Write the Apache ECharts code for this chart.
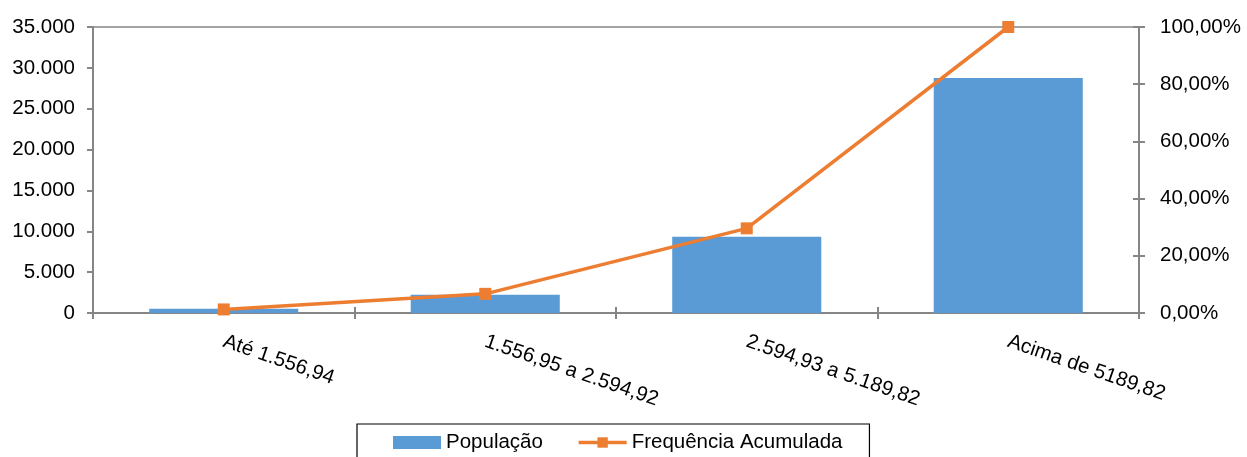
<!DOCTYPE html>
<html>
<head>
<meta charset="utf-8">
<script src="https://cdn.jsdelivr.net/npm/echarts@6/dist/echarts.min.js"></script>
<style>html,body{margin:0;padding:0;background:#fff}#c{width:1247px;height:457px}</style>
</head>
<body>
<div id="c"></div>
<script>
const categories = ['Até 1.556,94', '1.556,95 a 2.594,92', '2.594,93 a 5.189,82', 'Acima de 5189,82'];
const populacao = [520, 2220, 9340, 28760];
const freqAcumulada = [1.25, 6.7, 29.6, 100];
const leftTicks = {min: 0, max: 35000, interval: 5000};
const rightTicks = {min: 0, max: 100, interval: 20};

const FONT = 'Liberation Sans';
const FS = 20.5;
const AX = '#868686';
const chart = echarts.init(document.getElementById('c'));
const fmtThousands = v => String(v).replace(/\B(?=(\d{3})+(?!\d))/g, '.');
const fmtPct = v => v.toFixed(2).replace('.', ',') + '%';

chart.setOption({
  animation: false,
  textStyle: {fontFamily: FONT},
  grid: {left: 93, right: 108, top: 27, bottom: 144, show: true, borderColor: AX, borderWidth: 1.5},
  legend: {
    left: 357, top: 424, padding: [8, 27, 20, 36],
    borderColor: '#000', borderWidth: 1.2,
    itemWidth: 48, itemHeight: 13, itemGap: 34,
    textStyle: {fontFamily: FONT, fontSize: FS, color: '#000'},
    data: [
      {name: 'População', icon: 'rect'},
      {name: 'Frequência Acumulada', lineStyle: {width: 3.5}}
    ]
  },
  xAxis: [{
    type: 'category', data: categories,
    axisLine: {lineStyle: {color: AX, width: 2}},
    axisTick: {show: true, length: 6, lineStyle: {color: AX, width: 2}},
    axisLabel: {rotate: -19, fontSize: FS, color: '#000', margin: 28, fontFamily: FONT, interval: 0}
  }, {
    type: 'category', data: categories, position: 'bottom', gridIndex: 0,
    axisLine: {show: false},
    axisTick: {show: true, inside: true, length: 6, lineStyle: {color: AX, width: 2}},
    axisLabel: {show: false}
  }],
  yAxis: [{
    type: 'value', min: leftTicks.min, max: leftTicks.max, interval: leftTicks.interval,
    splitLine: {show: false},
    axisLine: {show: true, lineStyle: {color: AX, width: 2}},
    axisTick: {show: true, length: 6, lineStyle: {color: AX, width: 2}},
    axisLabel: {fontSize: FS, color: '#000', margin: 18, formatter: fmtThousands, fontFamily: FONT}
  }, {
    type: 'value', min: rightTicks.min, max: rightTicks.max, interval: rightTicks.interval, position: 'right',
    splitLine: {show: false},
    axisLine: {show: true, lineStyle: {color: AX, width: 2}},
    axisTick: {show: true, length: 6, lineStyle: {color: AX, width: 2}},
    axisLabel: {fontSize: FS, color: '#000', margin: 21, formatter: fmtPct, fontFamily: FONT}
  }, {
    type: 'value', min: rightTicks.min, max: rightTicks.max, interval: rightTicks.interval, position: 'right',
    splitLine: {show: false}, axisLine: {show: false},
    axisTick: {show: true, inside: true, length: 6, lineStyle: {color: AX, width: 2}},
    axisLabel: {show: false}
  }],
  series: [{
    name: 'População', type: 'bar', data: populacao, yAxisIndex: 0,
    barWidth: '57%', itemStyle: {color: '#5B9BD5'}, z: 2
  }, {
    name: 'Frequência Acumulada', type: 'line', data: freqAcumulada, yAxisIndex: 1,
    symbol: 'rect', symbolSize: 12, showAllSymbol: true,
    lineStyle: {color: '#ED7D31', width: 3.5},
    itemStyle: {color: '#ED7D31'}, z: 3
  }]
});
</script>
</body>
</html>
